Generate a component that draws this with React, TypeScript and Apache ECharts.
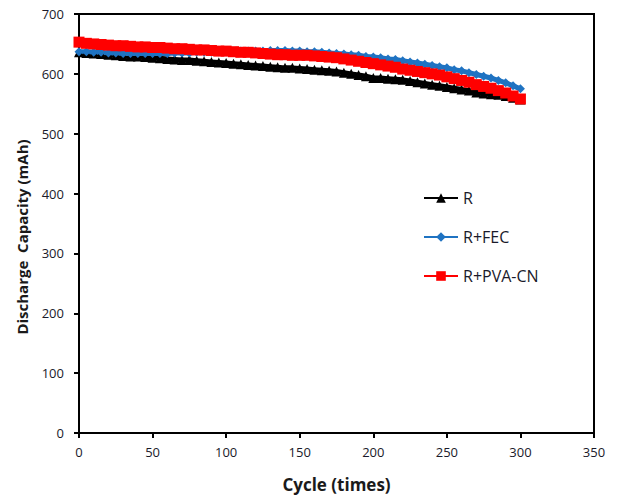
import React, { useEffect, useRef } from "react";
import * as echarts from "echarts";

const cycles: number[] = [];
for (let c = 0; c <= 300; c += 5) cycles.push(c);

const seriesNames = ["R", "R+FEC", "R+PVA-CN"];

const rValues = [636, 635, 634, 633, 632, 631, 630, 629, 629, 628, 627, 626, 625, 624, 623, 623, 622, 621, 620, 619, 618, 617, 616, 615, 614, 613, 612, 611, 610, 610, 609, 608, 607, 606, 605, 604, 602, 600, 598, 596, 593, 593, 592, 591, 590, 588, 586, 584, 582, 580, 578, 576, 574, 572, 569, 567, 566, 565, 563, 560, 557];

const fecValues = [637, 637, 636, 636, 635, 635, 634, 634, 634, 634, 634, 634, 634, 635, 635, 635, 636, 636, 636, 637, 637, 637, 638, 638, 638, 638, 639, 639, 639, 638, 638, 637, 637, 636, 635, 634, 633, 632, 631, 629, 628, 627, 625, 624, 622, 620, 618, 616, 614, 612, 610, 607, 605, 602, 599, 596, 593, 589, 585, 580, 575];

const pvaValues = [653, 651, 650, 649, 648, 647, 647, 646, 645, 645, 644, 644, 643, 642, 642, 641, 640, 640, 639, 638, 638, 637, 636, 636, 635, 634, 633, 632, 632, 631, 631, 631, 630, 629, 628, 627, 625, 623, 621, 619, 617, 615, 613, 611, 608, 606, 604, 602, 600, 598, 595, 592, 589, 586, 582, 579, 576, 572, 568, 563, 558];

const xTicks = { min: 0, max: 350, interval: 50 };
const yTicks = { min: 0, max: 700, interval: 100 };

const pair = (vals: number[]) => cycles.map((c, i) => [c, vals[i]]);

export default function App() {
  const ref = useRef<HTMLDivElement>(null);
  useEffect(() => {
    if (!ref.current) return;
    const chart = echarts.init(ref.current, undefined, { renderer: "svg" });
    const font = "'Open Sans', 'DejaVu Sans', sans-serif";
    chart.setOption({
      animation: false,
      backgroundColor: "#ffffff",
      grid: {
        left: 79,
        right: 30,
        top: 14,
        bottom: 63,
        show: true,
        borderColor: "#000",
        borderWidth: 2,
        containLabel: false,
      },
      legend: {
        orient: "vertical",
        left: 418,
        top: 185,
        itemWidth: 34,
        itemHeight: 12,
        itemGap: 23,
        textStyle: { fontFamily: font, fontSize: 16, color: "#1a1a2a" },
        data: seriesNames,
      },
      graphic: [
        {
          type: "text",
          x: 22,
          y: 237,
          rotation: Math.PI / 2,
          style: {
            text: "Discharge  Capacity (mAh)",
            fontFamily: font,
            fontSize: 15,
            fontWeight: "bold",
            fill: "#1a1a1a",
            align: "center",
            verticalAlign: "middle",
          },
        },
      ],
      xAxis: {
        type: "value",
        min: xTicks.min,
        max: xTicks.max,
        interval: xTicks.interval,
        name: "Cycle (times)",
        nameLocation: "middle",
        nameGap: 43,
        nameTextStyle: { fontFamily: font, fontSize: 17, fontWeight: "bold", color: "#1a1a1a" },
        axisLine: { show: true, onZero: false, lineStyle: { color: "#000", width: 2 } },
        axisTick: { show: true, inside: false, length: 5, lineStyle: { color: "#000", width: 2 } },
        axisLabel: { fontFamily: font, fontSize: 13, color: "#1a1a2a", margin: 12 },
        splitLine: { show: false },
      },
      yAxis: {
        type: "value",
        min: yTicks.min,
        max: yTicks.max,
        interval: yTicks.interval,
        axisLine: { show: true, lineStyle: { color: "#000", width: 2 } },
        axisTick: { show: true, inside: false, length: 5, lineStyle: { color: "#000", width: 2 } },
        axisLabel: { fontFamily: font, fontSize: 13, color: "#1a1a2a", margin: 15 },
        splitLine: { show: false },
      },
      series: [
        {
          name: seriesNames[0],
          type: "line",
          data: pair(rValues),
          symbol: "triangle",
          symbolSize: 10,
          lineStyle: { color: "#000", width: 5 },
          itemStyle: { color: "#000" },
        },
        {
          name: seriesNames[1],
          type: "line",
          data: pair(fecValues),
          symbol: "diamond",
          symbolSize: 9,
          lineStyle: { color: "#1f73c2", width: 5 },
          itemStyle: { color: "#1f73c2" },
        },
        {
          name: seriesNames[2],
          type: "line",
          data: pair(pvaValues),
          symbol: "rect",
          symbolSize: 11,
          lineStyle: { color: "#ff0000", width: 6 },
          itemStyle: { color: "#ff0000" },
        },
      ],
    });
    return () => chart.dispose();
  }, []);
  return <div ref={ref} style={{ width: 624, height: 498, position: "absolute", left: 0, top: 0, background: "#fff" }} />;
}
